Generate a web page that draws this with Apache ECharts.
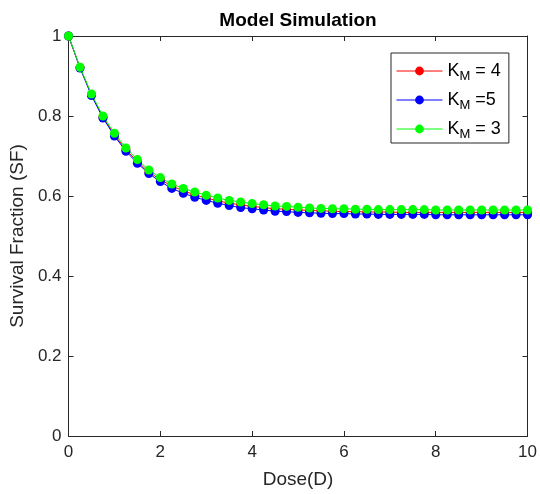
<!DOCTYPE html>
<html><head><meta charset="utf-8">
<script src="https://cdn.jsdelivr.net/npm/echarts@6/dist/echarts.min.js"></script>
<style>html,body{margin:0;padding:0;background:#fff}#c{width:540px;height:494px}</style>
</head><body><div id="c"></div>
<script>
const doses = [0,0.25,0.5,0.75,1,1.25,1.5,1.75,2,2.25,2.5,2.75,3,3.25,3.5,3.75,4,4.25,4.5,4.75,5,5.25,5.5,5.75,6,6.25,6.5,6.75,7,7.25,7.5,7.75,8,8.25,8.5,8.75,9,9.25,9.5,9.75,10];
const sfKM4 = [1.000,0.921,0.853,0.797,0.753,0.716,0.686,0.660,0.641,0.625,0.613,0.603,0.595,0.588,0.582,0.578,0.574,0.571,0.568,0.567,0.565,0.564,0.563,0.562,0.561,0.561,0.560,0.560,0.560,0.559,0.559,0.559,0.559,0.559,0.559,0.559,0.559,0.559,0.559,0.559,0.559];
const sfKM5 = [1.000,0.920,0.851,0.795,0.750,0.712,0.682,0.656,0.636,0.619,0.607,0.597,0.589,0.582,0.576,0.571,0.568,0.565,0.562,0.561,0.559,0.558,0.557,0.556,0.556,0.555,0.555,0.554,0.554,0.554,0.554,0.554,0.553,0.553,0.553,0.553,0.553,0.553,0.553,0.553,0.553];
const sfKM3 = [1.000,0.922,0.855,0.800,0.757,0.720,0.691,0.665,0.646,0.630,0.619,0.610,0.602,0.595,0.589,0.585,0.581,0.578,0.575,0.574,0.572,0.570,0.569,0.568,0.568,0.567,0.567,0.566,0.566,0.566,0.566,0.566,0.565,0.565,0.565,0.565,0.565,0.565,0.565,0.565,0.565];
const seriesNames = ['KM4','KM5','KM3'];
const legendLabels = {KM4:'{k|K}{s|M}{k| = 4}', KM5:'{k|K}{s|M}{k| =5}', KM3:'{k|K}{s|M}{k| = 3}'};
const colors = ['#ff0000','#0000ff','#00ff00'];
const FONT = 'Liberation Sans, Arial, sans-serif';
const axisColor = '#262626';

const chart = echarts.init(document.getElementById('c'), null, {renderer:'canvas'});
function mk(name, vals, color){
  return {name, type:'line', data: doses.map((d,i)=>[d, vals[i]]),
    symbol:'circle', symbolSize:9, showSymbol:true,
    lineStyle:{color, width:1}, itemStyle:{color, borderColor:color, borderWidth:0},
    emphasis:{disabled:true}, animation:false, z:2, xAxisIndex:0, yAxisIndex:0};
}
const baseAxis = {
  axisLine:{show:true, onZero:false, lineStyle:{color:axisColor, width:1}},
  axisTick:{show:true, inside:true, length:5, lineStyle:{color:axisColor}},
  splitLine:{show:false},
};
chart.setOption({
  animation:false,
  backgroundColor:'#fff',
  title:{text:'Model Simulation', left:293, top:6, textAlign:'center',
    textStyle:{fontFamily:FONT, fontSize:19, fontWeight:'bold', color:'#000'}},
  grid:{left:68, right:11, top:36, bottom:57, containLabel:false},
  legend:{
    data: seriesNames, orient:'vertical', left:391, top:53, width:117,
    padding:[9,8,2,5], itemGap:8, itemWidth:46, itemHeight:11,
    backgroundColor:'#fff', borderColor:axisColor, borderWidth:1,
    lineStyle:{width:1}, itemStyle:{borderWidth:0},
    formatter: n => legendLabels[n],
    textStyle:{fontFamily:FONT, fontSize:18, color:'#000',
      rich:{k:{fontFamily:FONT, fontSize:18, color:'#000'},
            s:{fontFamily:FONT, fontSize:13, color:'#000', padding:[11,0,0,0]}}}
  },
  xAxis:[
    Object.assign({type:'value', min:0, max:10, interval:2, position:'bottom',
      name:'Dose(D)', nameLocation:'middle', nameGap:34,
      nameTextStyle:{fontFamily:FONT, fontSize:19, color:axisColor},
      axisLabel:{fontFamily:FONT, fontSize:17, color:axisColor, margin:8}}, baseAxis),
    Object.assign({type:'value', min:0, max:10, interval:2, position:'top',
      axisLabel:{show:false}}, baseAxis)
  ],
  yAxis:[
    Object.assign({type:'value', min:0, max:1, interval:0.2, position:'left',
      name:'Survival Fraction (SF)', nameLocation:'middle', nameGap:41,
      nameTextStyle:{fontFamily:FONT, fontSize:19, color:axisColor},
      axisLabel:{fontFamily:FONT, fontSize:17, color:axisColor, margin:7}}, baseAxis),
    Object.assign({type:'value', min:0, max:1, interval:0.2, position:'right',
      axisLabel:{show:false}}, baseAxis)
  ],
  series:[mk('KM4', sfKM4, colors[0]), mk('KM5', sfKM5, colors[1]), mk('KM3', sfKM3, colors[2])]
});
</script></body></html>
